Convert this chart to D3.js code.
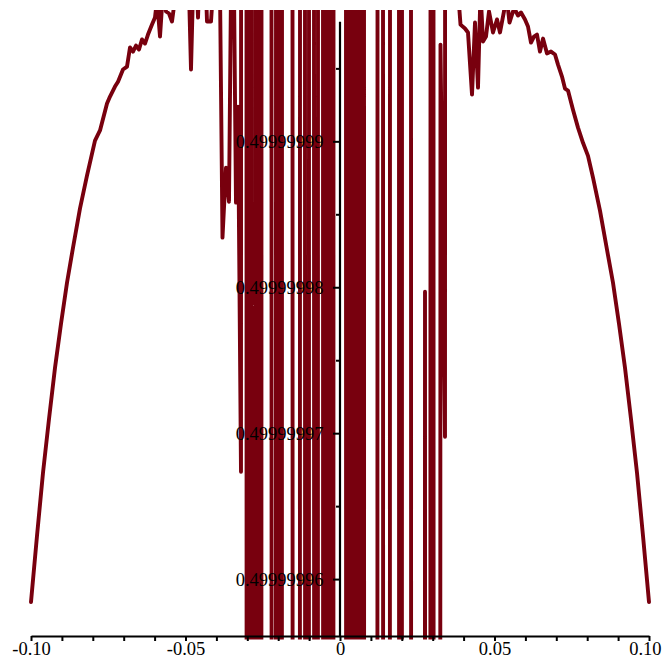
<!DOCTYPE html>
<html>
<head>
<meta charset="utf-8">
<script src="https://cdn.jsdelivr.net/npm/d3@7"></script>
<style>
  html, body { margin: 0; padding: 0; background: #fff; }
  svg { display: block; }
  .axis text { font-family: "Liberation Serif", "Times New Roman", serif; font-size: 18.5px; fill: #000; }
  .axis line, .axis path { stroke: #000; stroke-width: 2; }
  .curve { fill: none; stroke: #78000e; stroke-width: 3.9; stroke-linejoin: round; stroke-linecap: round; }
</style>
</head>
<body>
<svg id="chart" width="665" height="662"></svg>
<script>
    // values, left part of the curve
    var leftX = [-0.1, -0.09806, -0.09612, -0.09417, -0.09223, -0.09029, -0.08835, -0.08641, -0.08414, -0.08188,
                 -0.07929, -0.07767, -0.07540, -0.07443, -0.07282, -0.07184, -0.07023, -0.06893, -0.06796, -0.06699,
                 -0.06602, -0.06505, -0.06408, -0.06311, -0.06214, -0.06084, -0.05987, -0.05922, -0.05825, -0.05728,
                 -0.05631, -0.05534, -0.05437, -0.05307, -0.04887, -0.04822, -0.04757, -0.04628, -0.04595, -0.04563,
                 -0.04337, -0.04304, -0.04175, -0.04110, -0.03883];
    var leftY = [0.49999995843, 0.49999996296, 0.49999996728, 0.49999997098, 0.49999997448, 0.49999997750, 0.49999998031, 0.49999998271, 0.49999998540, 0.49999998765,
                 0.49999999005, 0.49999999075, 0.49999999259, 0.49999999307, 0.49999999375, 0.49999999409, 0.49999999492, 0.49999999512, 0.49999999643, 0.49999999615,
                 0.49999999656, 0.49999999629, 0.49999999698, 0.49999999670, 0.49999999732, 0.49999999800, 0.49999999848, 0.49999999972, 0.49999999718, 0.5000000003,
                 0.49999999890, 0.49999999876, 0.49999999821, 0.5000000003, 0.5000000003, 0.49999999492, 0.5000000003, 0.5000000003, 0.49999999848, 0.5000000003,
                 0.5000000003, 0.49999999821, 0.49999999821, 0.5000000003, 0.5000000003];

    // the noisy middle, values jump far above / below the view
    var coreX = [-0.03803, -0.03689, -0.03592, -0.03528, -0.03430, -0.03366, -0.03301, -0.03204, -0.03184,
                 -0.03039, -0.03013, -0.02958, -0.02932, -0.02877, -0.02851, -0.02748, -0.02722, -0.02650, -0.02625,
                 -0.02553, -0.02528, -0.02230, -0.02204, -0.02084, -0.02058, -0.01987, -0.01961, -0.01890, -0.01864,
                 -0.01550, -0.01524, -0.01307, -0.01282, -0.01146, -0.01120, -0.01016, -0.00990, -0.00854, -0.00828,
                 -0.00725, -0.00699, -0.00563, -0.00537, -0.00450, -0.00424, -0.00337, -0.00311, -0.00223, -0.00197,
                 0.00181, 0.00207, 0.00278, 0.00304, 0.00375, 0.00401, 0.00472, 0.00498, 0.00570, 0.00595,
                 0.00667, 0.00693, 0.00764, 0.00790, 0.01201, 0.01227, 0.01379, 0.01405, 0.01605, 0.01631,
                 0.01896, 0.01922, 0.01994, 0.02019, 0.02285, 0.02311, 0.02738, 0.02751, 0.02764,
                 0.02916, 0.02942, 0.03013, 0.03039, 0.03223, 0.03252, 0.03398, 0.03417];
    var coreY = [0.49999998340, 0.49999998820, 0.49999998586, 0.5000000003, 0.5000000003, 0.49999998580, 0.49999999238, 0.49999996735, 0.5000002,
                 0.5000002, 0.4999998, 0.4999998, 0.5000002, 0.5000002, 0.4999998, 0.4999998, 0.5000002, 0.5000002, 0.4999998,
                 0.4999998, 0.5000002, 0.5000002, 0.4999998, 0.4999998, 0.5000002, 0.5000002, 0.4999998, 0.4999998, 0.5000002,
                 0.5000002, 0.4999998, 0.4999998, 0.5000002, 0.5000002, 0.4999998, 0.4999998, 0.5000002, 0.5000002, 0.4999998,
                 0.4999998, 0.5000002, 0.5000002, 0.4999998, 0.4999998, 0.5000002, 0.5000002, 0.4999998, 0.4999998, 0.5000002,
                 0.5000002, 0.4999998, 0.4999998, 0.5000002, 0.5000002, 0.4999998, 0.4999998, 0.5000002, 0.5000002, 0.4999998,
                 0.4999998, 0.5000002, 0.5000002, 0.4999998, 0.4999998, 0.5000002, 0.5000002, 0.4999998, 0.4999998, 0.5000002,
                 0.5000002, 0.4999998, 0.4999998, 0.5000002, 0.5000002, 0.4999998, 0.4999998, 0.49999997969, 0.4999998,
                 0.4999998, 0.5000002, 0.5000002, 0.4999998, 0.4999998, 0.49999999663, 0.49999996975, 0.5000002];

    // right part of the curve
    var rightX = [0.03819, 0.03900, 0.04045, 0.04142, 0.04272, 0.04369, 0.04466, 0.04547, 0.04628, 0.04725,
                  0.04822, 0.04951, 0.05081, 0.05178, 0.05307, 0.05372, 0.05485, 0.05599, 0.05663, 0.05761,
                  0.05858, 0.05987, 0.06084, 0.06181, 0.06278, 0.06375, 0.06472, 0.06570, 0.06699, 0.06828,
                  0.06958, 0.07055, 0.07184, 0.07282, 0.07379, 0.07540, 0.07702, 0.07864, 0.08026, 0.08188,
                  0.08414, 0.08641, 0.08835, 0.09029, 0.09223, 0.09417, 0.09612, 0.09806, 0.1];
    var rightY = [0.5000000003, 0.49999999800, 0.49999999773, 0.49999999746, 0.49999999320, 0.49999999814, 0.49999999368, 0.5000000003, 0.49999999684, 0.49999999718,
                  0.49999999890, 0.49999999746, 0.49999999835, 0.49999999746, 0.49999999890, 0.5000000003, 0.49999999814, 0.49999999890, 0.49999999903, 0.49999999862,
                  0.49999999883, 0.49999999835, 0.49999999787, 0.49999999677, 0.49999999718, 0.49999999732, 0.49999999615, 0.49999999704, 0.49999999602, 0.49999999615,
                  0.49999999595, 0.49999999526, 0.49999999444, 0.49999999361, 0.49999999348, 0.49999999217, 0.49999999094, 0.49999998990, 0.49999998900, 0.49999998751,
                  0.49999998525, 0.49999998257, 0.49999998031, 0.49999997750, 0.49999997448, 0.49999997098, 0.49999996728, 0.49999996296, 0.49999995843];

    // tick values and labels
    var xMajor = [-0.1, -0.05, 0, 0.05, 0.1],
        xLabels = ["-0.10", "-0.05", "0", "0.05", "0.10"],
        xMinor = [-0.09, -0.08, -0.07, -0.06, -0.04, -0.03, -0.02, -0.01, 0.01, 0.02, 0.03, 0.04, 0.06, 0.07, 0.08, 0.09];
    var yMajor = [0.49999996, 0.49999997, 0.49999998, 0.49999999],
        yLabels = ["0.49999996", "0.49999997", "0.49999998", "0.49999999"],
        yMinor = [0.499999965, 0.499999975, 0.499999985, 0.499999995];

    // view of the plot
    var xView = [-0.1, 0.1],
        yView = [0.4999999561, 0.4999999990],
        yAxisTop = 0.4999999982;

    var svg = d3.select("#chart"),
        width = +svg.attr("width"),
        height = +svg.attr("height");

    var x = d3.scaleLinear().domain(xView).range([31, 649]),
        y = d3.scaleLinear().domain(yView).range([636, 10]);

    function zip(xs, ys) {
        return xs.map((v, i) => [v, ys[i]]);
    }
    var points = zip(leftX, leftY).concat(zip(coreX, coreY), zip(rightX, rightY));

    // clip the curve to the view
    svg.append("defs").append("clipPath")
        .attr("id", "view")
        .append("rect")
        .attr("x", 0)
        .attr("y", y(yView[1]))
        .attr("width", width)
        .attr("height", y(yView[0]) - y(yView[1]) + 3.5);

    var line = d3.line()
        .x(d => x(d[0]))
        .y(d => y(d[1]));

    svg.append("path")
        .datum(points)
        .attr("class", "curve")
        .attr("clip-path", "url(#view)")
        .attr("d", line);

    // x axis
    var xAxisY = y(yView[0]);
    svg.append("g")
        .attr("class", "axis")
        .attr("transform", "translate(0," + xAxisY + ")")
        .call(d3.axisBottom(x).tickValues(xMinor).tickSize(5).tickSizeOuter(0).tickFormat(""))
        .select(".domain").remove();

    var xAxis = svg.append("g")
        .attr("class", "axis")
        .attr("transform", "translate(0," + xAxisY + ")")
        .call(d3.axisBottom(x).tickValues(xMajor).tickSize(5).tickSizeOuter(0).tickPadding(1)
              .tickFormat((d, i) => xLabels[i]));
    xAxis.selectAll("text").attr("font-family", null).attr("font-size", null);
    // last label is pulled inside the frame
    xAxis.selectAll(".tick:last-of-type text").attr("text-anchor", "end").attr("x", 12);

    // y axis through x = 0
    var yAxisX = x(0);
    var yAxis = svg.append("g")
        .attr("class", "axis")
        .attr("transform", "translate(" + yAxisX + ",0)")
        .call(d3.axisLeft(y).tickValues(yMajor).tickSize(7).tickPadding(9.5)
              .tickFormat((d, i) => yLabels[i]));
    yAxis.select(".domain").remove();
    yAxis.selectAll("text").attr("font-family", null).attr("font-size", null);

    svg.append("g")
        .attr("class", "axis")
        .attr("transform", "translate(" + yAxisX + ",0)")
        .call(d3.axisLeft(y).tickValues(yMinor).tickSize(4).tickFormat(""))
        .select(".domain").remove();

    svg.append("line")
        .attr("x1", yAxisX).attr("x2", yAxisX)
        .attr("y1", y(yAxisTop)).attr("y2", xAxisY + 1)
        .attr("stroke", "#000")
        .attr("stroke-width", 2.2);
</script>
</body>
</html>
